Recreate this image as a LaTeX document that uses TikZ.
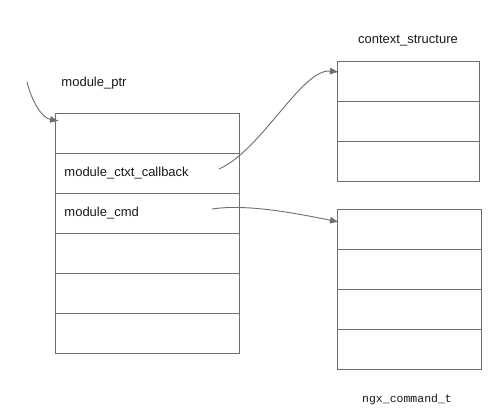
\documentclass[tikz,border=0pt]{standalone}
\usepackage{fontspec}
\setmainfont{Liberation Sans}
\setmonofont{Liberation Mono}
\usetikzlibrary{arrows.meta}
\definecolor{linegray}{HTML}{6E6E6E}
\definecolor{txt}{HTML}{1A1A1A}
\begin{document}
\begin{tikzpicture}[x=1pt,y=-1pt,
  cell/.style={draw=linegray, line width=0.9pt, minimum height=40pt, inner ysep=0pt, inner xsep=0pt, anchor=north west, text=txt, font=\fontsize{13}{15}\selectfont},
  leftcell/.style={cell, minimum width=184pt, inner xsep=9pt, text width=166pt, align=left},
  ctxcell/.style={cell, minimum width=142pt},
  cmdcell/.style={cell, minimum width=144pt},
  lbl/.style={text=txt, inner sep=0pt, font=\fontsize{13}{15}\selectfont},
  conn/.style={draw=linegray, line width=0.9pt, -{Latex[length=9pt,width=7pt]}}
]
\useasboundingbox (0,0) rectangle (502,415);
\fill[white] (0,0) rectangle (502,415);
% left structure
\node[leftcell] (m1) at (55,113) {};
\node[leftcell] (m2) at (55,153) {module\_ctxt\_callback};
\node[leftcell] (m3) at (55,193) {module\_cmd};
\node[leftcell] (m4) at (55,233) {};
\node[leftcell] (m5) at (55,273) {};
\node[leftcell] (m6) at (55,313) {};
% context structure
\node[ctxcell] (c1) at (337,61) {};
\node[ctxcell] (c2) at (337,101) {};
\node[ctxcell] (c3) at (337,141) {};
% ngx_command_t
\node[cmdcell] (n1) at (337,209) {};
\node[cmdcell] (n2) at (337,249) {};
\node[cmdcell] (n3) at (337,289) {};
\node[cmdcell] (n4) at (337,329) {};
% labels
\node[lbl] (lp) at (94,83) {module\_ptr};
\node[lbl] (lc) at (408,41) {context\_structure};
\node[lbl, font=\ttfamily\fontsize{11.5}{13}\selectfont] (ln) at (407,400) {ngx\_command\_t};
% connector ends
\coordinate (s1) at (27,82);
\coordinate (e1) at (59,121);
\coordinate (s2) at (219,169);
\coordinate (e2) at (339,72);
\coordinate (s3) at (212,209);
\coordinate (e3) at (339,222);
\draw[conn] (s1) .. controls (32,102) and (42,118) .. (e1);
\draw[conn] (s2) .. controls (262,150) and (302,68) .. (e2);
\draw[conn] (s3) .. controls (245,204) and (290,212) .. (e3);
\end{tikzpicture}
\end{document}
